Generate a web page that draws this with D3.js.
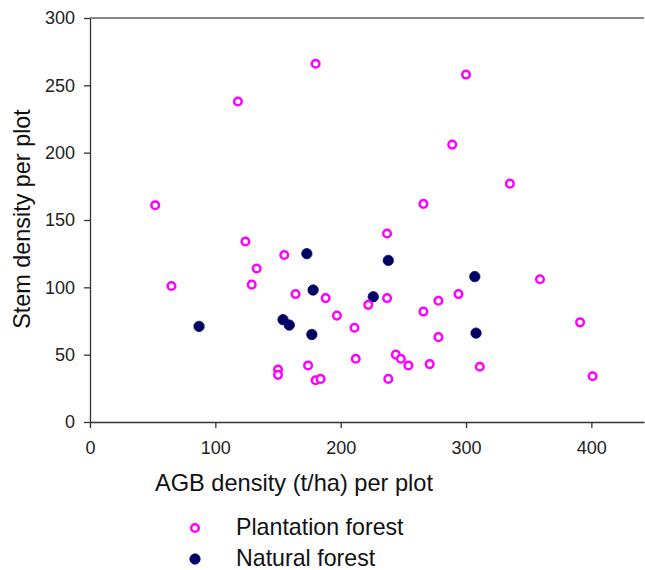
<!DOCTYPE html>
<html><head><meta charset="utf-8">
<script src="https://cdn.jsdelivr.net/npm/d3@7"></script>
<style>body{margin:0;background:#fff}svg{display:block;font-family:"Liberation Sans",Arial,sans-serif}</style>
</head><body><svg id="c" width="645" height="570"></svg>
<script>
const plantationAGB  = [52,65,118,124,129,133,150,150,155,164,174,180,180,184,188,197,211,212,222,237,237,238,244,248,254,266,266,271,278,278,289,294,300,311,335,359,391,401];
const plantationStem = [161,101,238,134,102,114,39,35,124,95,42,266,31,32,92,79,70,47,87,140,92,32,50,47,42,162,82,43,90,63,206,95,258,41,177,106,74,34];
const naturalAGB  = [87,154,159,173,178,177,226,238,307,308];
const naturalStem = [71,76,72,125,98,65,93,120,108,66];
const xTicks = [0,100,200,300,400];
const yTicks = [0,50,100,150,200,250,300];
const seriesNames = ["Plantation forest","Natural forest"];

const svg = d3.select("#c");
const x = d3.scaleLinear().domain([0,442]).range([90,644]);
const y = d3.scaleLinear().domain([0,300]).range([422,18]);

// top frame line
svg.append("line").attr("x1",90).attr("x2",644).attr("y1",y(300)).attr("y2",y(300))
  .attr("stroke","#888").attr("stroke-width",2);

const xa = svg.append("g").attr("transform",`translate(0,${y(0)})`)
  .call(d3.axisBottom(x).tickValues(xTicks).tickSize(6).tickSizeOuter(0).tickPadding(13));
const ya = svg.append("g").attr("transform",`translate(${x(0)},0)`)
  .call(d3.axisLeft(y).tickValues(yTicks).tickSize(6).tickSizeOuter(0).tickPadding(9));
[xa,ya].forEach(a=>{
  a.selectAll("path,line").attr("stroke","#333").attr("stroke-width",1.3);
  a.selectAll("text").attr("font-size",18).attr("fill","#222").attr("font-family","Liberation Sans, Arial, sans-serif");
});

svg.append("text").attr("x",294).attr("y",491).attr("text-anchor","middle")
  .attr("font-size",23.6).attr("fill","#111").text("AGB density (t/ha) per plot");
svg.append("text").attr("transform","translate(30,219) rotate(-90)").attr("text-anchor","middle")
  .attr("font-size",23.4).attr("fill","#111").text("Stem density per plot");

const nat = naturalAGB.map((v,i)=>({x:v,y:naturalStem[i]}));
const pla = plantationAGB.map((v,i)=>({x:v,y:plantationStem[i]}));

svg.append("g").selectAll("circle").data(nat).join("circle")
  .attr("cx",d=>x(d.x)).attr("cy",d=>y(d.y)).attr("r",5.2)
  .attr("fill","#000060").attr("stroke","#000a80").attr("stroke-width",0.8);
svg.append("g").selectAll("circle").data(pla).join("circle")
  .attr("cx",d=>x(d.x)).attr("cy",d=>y(d.y)).attr("r",3.8)
  .attr("fill","#fff").attr("stroke","#ff00ff").attr("stroke-width",2.5);

// legend
const lg = svg.append("g");
lg.append("circle").attr("cx",195).attr("cy",528).attr("r",3.8)
  .attr("fill","#fff").attr("stroke","#ff00ff").attr("stroke-width",2.5);
lg.append("circle").attr("cx",195).attr("cy",559).attr("r",5.2)
  .attr("fill","#000060").attr("stroke","#000a80").attr("stroke-width",0.8);
lg.append("text").attr("x",236).attr("y",535).attr("font-size",23.2).attr("fill","#111").text(seriesNames[0]);
lg.append("text").attr("x",236).attr("y",566).attr("font-size",23.2).attr("fill","#111").text(seriesNames[1]);
</script></body></html>
